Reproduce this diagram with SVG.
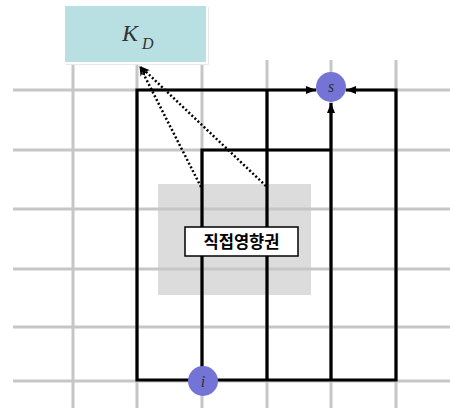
<svg xmlns="http://www.w3.org/2000/svg" width="450" height="414" viewBox="0 0 450 414">
<style>
.grid{stroke:#c6c6c6;stroke-width:3;fill:none}
.wire{stroke:#000;stroke-width:3.2;fill:none;stroke-linejoin:miter}
.dot{stroke:#000;stroke-width:2.5;fill:none;stroke-dasharray:2 2.2}
.node{fill:#7474d6}
.var{font-family:"Liberation Serif",serif;font-style:italic;fill:#333}
</style>
<defs>
<marker id="ah" markerWidth="10" markerHeight="8" refX="10" refY="4" orient="auto" markerUnits="userSpaceOnUse">
<path d="M0,0 L10,4 L0,8 Z" fill="#000"/>
</marker>
<marker id="ad" markerWidth="10" markerHeight="8" refX="9" refY="4" orient="auto" markerUnits="userSpaceOnUse">
<path d="M0,0 L10,4 L0,8 L3,4 Z" fill="#000"/>
</marker>
</defs>
<rect x="158" y="184" width="153" height="111" fill="#dcdcdc"/>
<g id="grid">
<path class="grid" d="M13,90H450M13,150H450M13,209H450M13,269H450M13,327H450M13,381H450"/>
<path class="grid" d="M73,60V408M137,60V408M202,60V408M267,60V408M331,60V408M396,60V408"/>
</g>
<g id="KD">
<rect x="66" y="7" width="143" height="58" fill="#e8e8e8"/>
<rect x="64" y="5" width="143" height="58" fill="#b8e0e3" stroke="#fff" stroke-width="2"/>
<text class="var" x="122" y="41" font-size="24">K</text>
<text class="var" x="142" y="49" font-size="16">D</text>
</g>
<g id="connectors">
<path class="wire" d="M190,380H137V90H316" marker-end="url(#ah)"/>
<path class="wire" d="M216,380H396V90H346" marker-end="url(#ah)"/>
<path class="wire" d="M267,380V90"/>
<path class="wire" d="M331,380V103" marker-end="url(#ah)"/>
<path class="wire" d="M202,367V150H331"/>
<path class="dot" d="M201,187L140,67" marker-end="url(#ad)"/>
<path class="dot" d="M266,186L141,67" marker-end="url(#ad)"/>
</g>
<g id="s">
<circle class="node" cx="331" cy="87" r="15"/>
<text class="var" x="331" y="92" font-size="16" text-anchor="middle">s</text>
</g>
<g id="i">
<circle class="node" cx="203" cy="381" r="15"/>
<text class="var" x="203" y="387" font-size="16" text-anchor="middle">i</text>
</g>
<g id="label">
<rect x="185" y="227" width="113" height="29" fill="#fff" stroke="#000" stroke-width="1.5"/>
<text x="241.5" y="248" font-size="16.5" font-weight="bold" text-anchor="middle" font-family="'Noto Sans CJK KR',sans-serif">직접영향권</text>
</g>
</svg>
